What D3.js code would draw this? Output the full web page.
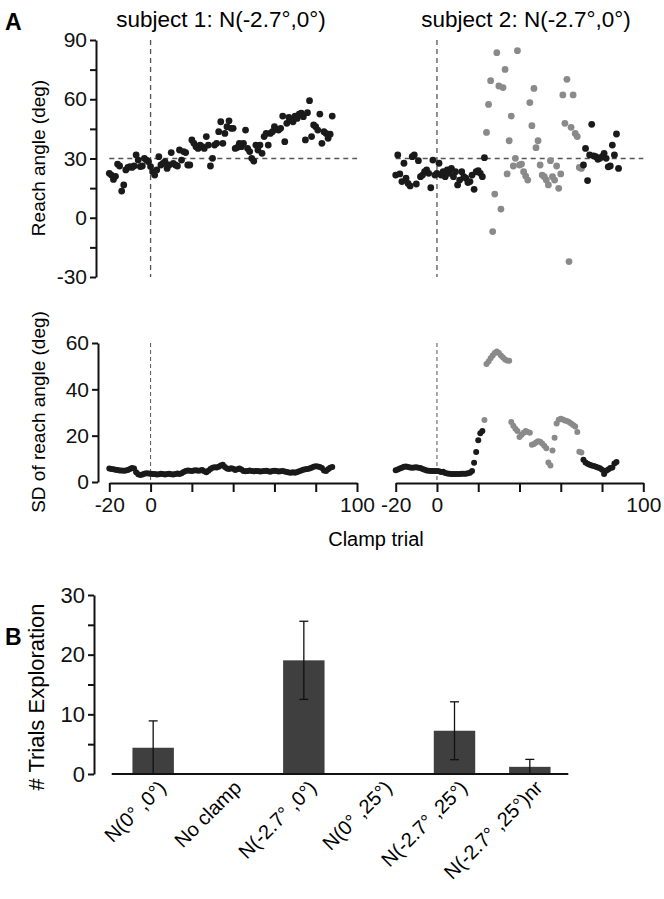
<!DOCTYPE html>
<html><head><meta charset="utf-8">
<script src="https://cdn.jsdelivr.net/npm/d3@7"></script>
<style>
body{margin:0;background:#fff;}
svg{display:block;font-family:"Liberation Sans",Arial,sans-serif;}
</style></head><body>
<svg id="chart" width="664" height="899"></svg>
<script>
// ---------- DATA ----------
const firstTrial = -20;
const panelTitles = ["subject 1: N(-2.7°,0°)", "subject 2: N(-2.7°,0°)"];
// reach angle per trial (deg), trials -20 ... 88
const reach1 = [22.5,21.6,19.4,21.0,27.2,26.2,13.5,16.6,24.2,25.5,25.9,25.5,26.2,31.8,29.2,25.9,26.2,30.1,29.2,28.4,
  25.9,23.3,21.6,24.2,30.9,26.7,27.5,28.4,25.0,26.7,33.0,27.5,26.7,26.2,34.3,29.2,33.5,33.0,26.7,26.7,
  39.4,37.7,36.0,35.1,36.8,36.0,35.1,41.1,36.8,26.2,30.1,36.8,37.7,43.6,48.6,37.7,42.7,46.1,49.1,45.3,
  45.3,35.1,35.6,37.7,36.0,37.7,44.4,35.1,33.5,30.1,28.7,36.8,34.3,36.8,32.6,41.1,42.7,36.8,42.7,43.6,
  46.1,44.7,44.4,45.3,51.5,38.5,47.8,50.8,49.5,48.6,51.5,50.3,52.5,52.9,51.2,39.4,53.2,59.3,41.1,47.0,
  46.1,44.4,52.5,37.7,43.6,42.7,40.2,42.3,51.5];
const reach2 = [21.6,31.8,22.2,18.3,27.6,20.0,17.4,16.1,30.9,31.8,17.1,28.9,20.8,21.6,23.3,24.2,22.5,15.2,29.2,21.6,
  22.5,27.6,21.6,23.3,20.8,24.2,22.5,25.0,20.8,23.3,16.6,19.1,23.3,20.8,20.0,17.8,18.3,21.6,14.4,23.3,
  23.8,22.5,20.8,30.4,
  43.2,57.4,69.4,-7.0,12.0,83.6,66.7,4.4,65.9,75.1,22.2,39.0,51.5,26.2,30.1,84.6,26.7,27.2,23.3,21.1,
  19.1,58.3,46.6,65.5,35.5,39.0,26.7,21.6,20.8,19.1,16.6,28.9,20.8,19.1,26.2,14.9,22.2,62.2,47.8,70.1,
  -22.2,45.8,62.2,42.7,41.1,25.5,25.0,
  26.7,35.1,18.8,31.8,47.3,31.3,30.9,29.6,30.1,30.9,32.6,30.1,25.8,26.2,36.8,31.8,42.4,25.0];
// SD of reach angle per trial (deg)
const sd1 = [5.8,5.6,5.5,5.3,5.2,5.0,5.0,4.9,5.0,5.2,5.6,6.0,5.8,4.2,3.3,3.0,3.2,3.6,3.8,3.7,
  3.6,3.5,3.4,3.2,3.3,3.6,3.4,3.2,3.4,3.6,3.3,3.2,3.5,3.7,3.4,3.8,4.3,4.8,5.0,4.9,
  4.8,5.0,5.1,4.9,5.0,5.2,4.6,4.2,4.9,5.6,6.2,6.4,6.3,6.6,7.1,7.4,6.5,5.8,5.6,5.9,
  5.7,5.2,5.5,5.8,5.4,4.8,4.6,4.8,5.0,4.7,4.6,4.8,4.7,4.5,4.6,4.8,4.9,4.6,4.4,4.7,
  4.9,4.7,4.5,4.6,4.8,4.5,4.3,4.1,4.0,4.2,4.0,4.3,4.6,5.0,5.3,5.5,5.6,5.8,6.2,6.6,
  6.8,6.7,6.5,6.0,5.0,4.7,5.5,6.2,6.5];
const sd2 = [5.1,5.4,5.8,6.2,6.6,6.7,6.5,6.3,6.2,6.3,6.4,6.2,6.0,5.6,5.3,5.0,4.9,4.8,4.8,4.7,
  4.7,4.6,4.3,4.4,3.9,3.7,3.6,3.4,3.4,3.5,3.4,3.5,3.6,3.6,3.6,3.8,4.0,4.8,8.3,12.9,
  18.0,21.0,22.0,26.8,50.9,52.0,53.4,54.6,55.7,56.3,55.7,54.6,53.7,52.9,52.4,52.3,25.9,24.3,23.0,22.0,
  19.4,20.4,21.3,22.0,21.6,21.3,16.1,16.4,17.0,17.6,17.4,16.6,15.6,14.6,8.4,7.1,13.6,19.1,25.3,26.9,
  27.3,27.0,26.6,26.3,25.9,25.3,24.6,24.0,21.6,13.1,12.7,9.6,8.4,7.9,7.4,7.1,6.9,6.6,6.3,5.9,
  5.3,3.4,4.9,5.4,6.0,6.3,8.0,8.6];
// trials drawn in grey (exploration) for subject 2
const exploreReach2 = [24, 70];
const exploreSD2 = [23, 70];
const reachTicks = [-30,-15,0,15,30,45,60,75,90];
const sdTicks = [0,20,40,60];
const trialTicks = [-20,0,20,40,60,80,100];
const trialLabels = [-20,0,100];
// panel B
const conditions = ["N(0° ,0°)","No clamp","N(-2.7° ,0°)","N(0° ,25°)","N(-2.7° ,25°)","N(-2.7° ,25°)nr"];
const trialsExploration = [4.4, 0, 19.05, 0, 7.25, 1.2];
const errExploration = [4.5, 0, 6.55, 0, 4.85, 1.25];
const barTicks = [0,5,10,15,20,25,30];

// ---------- DRAW ----------
const svg = d3.select("#chart");
const BLACK = "#1a1a1a", GREY = "#8a8a8a", DASH = "#555";
const FT = 21;   // tick labels
const FA = 19;   // axis titles (panel A)
const FB = 22;   // panel B texts
const FC = 20;   // category labels

const xL = d3.scaleLinear([-20,100],[109.3,357]);
const xR = d3.scaleLinear([-20,100],[395.7,643.3]);
const yTop = d3.scaleLinear([-30,90],[277,40]);
const yBot = d3.scaleLinear([0,60],[482,343]);

function styleAxis(g, fs){
  g.selectAll("path.domain").attr("stroke","#111").attr("stroke-width",2);
  g.selectAll(".tick line").attr("stroke","#111").attr("stroke-width",2);
  g.selectAll(".tick text").attr("font-size",fs).attr("fill","#111")
    .attr("font-family","Liberation Sans, Arial, sans-serif");
}

// Panel letters & titles
svg.append("text").attr("x",5).attr("y",30).attr("font-size",23).attr("font-weight","bold").text("A");
svg.append("text").attr("x",5).attr("y",645).attr("font-size",23).attr("font-weight","bold").text("B");
svg.append("text").attr("x",221).attr("y",27).attr("text-anchor","middle").attr("font-size",22.5).text(panelTitles[0]);
svg.append("text").attr("x",526).attr("y",27).attr("text-anchor","middle").attr("font-size",22.5).text(panelTitles[1]);

// Y axes
const gYT = svg.append("g").attr("transform","translate(96,0)")
  .call(d3.axisLeft(yTop).tickValues(reachTicks).tickSize(6).tickSizeOuter(0)
    .tickFormat(d => d % 30 === 0 ? String(d) : ""));
styleAxis(gYT, FT); gYT.selectAll(".tick text").attr("x",-9);
const gYB = svg.append("g").attr("transform","translate(98,0)")
  .call(d3.axisLeft(yBot).tickValues(sdTicks).tickSize(6).tickSizeOuter(0).tickFormat(d => String(d)));
styleAxis(gYB, FT); gYB.selectAll(".tick text").attr("x",-9);

svg.append("text").attr("transform","translate(45,158) rotate(-90)").attr("text-anchor","middle")
  .attr("font-size",FA).text("Reach angle (deg)");
svg.append("text").attr("transform","translate(45,412) rotate(-90)").attr("text-anchor","middle")
  .attr("font-size",FA).text("SD of reach angle (deg)");

// X axes (bottom row)
[xL,xR].forEach(x=>{
  const g = svg.append("g").attr("transform","translate(0,483)")
    .call(d3.axisBottom(x).tickValues(trialTicks).tickSize(9).tickSizeOuter(0)
      .tickFormat(d => trialLabels.includes(d) ? String(d) : ""));
  styleAxis(g, FT); g.selectAll(".tick text").attr("y",14);
});
svg.append("text").attr("x",376).attr("y",546).attr("text-anchor","middle").attr("font-size",20).text("Clamp trial");

// reference dashed lines
[xL,xR].forEach(x=>{
  svg.append("line").attr("x1",x(-20)).attr("x2",x(100)).attr("y1",yTop(30)).attr("y2",yTop(30))
    .attr("stroke",DASH).attr("stroke-width",1.3).attr("stroke-dasharray","5,4");
  svg.append("line").attr("x1",x(0)).attr("x2",x(0)).attr("y1",yTop(90)).attr("y2",yTop(-30))
    .attr("stroke",DASH).attr("stroke-width",1.3).attr("stroke-dasharray","5,4");
  svg.append("line").attr("x1",x(0)).attr("x2",x(0)).attr("y1",yBot(60)).attr("y2",yBot(0))
    .attr("stroke",DASH).attr("stroke-width",1).attr("stroke-dasharray","4,3");
});

function dots(arr, x, y, r, range){
  svg.append("g").selectAll("circle").data(arr).join("circle")
    .attr("cx",(d,i)=>x(firstTrial+i)).attr("cy",d=>y(d)).attr("r",r)
    .attr("fill",(d,i)=>{const t=firstTrial+i; return range && t>=range[0] && t<=range[1] ? GREY : BLACK;});
}
dots(reach1, xL, yTop, 3.4, null);
dots(reach2, xR, yTop, 3.4, exploreReach2);
dots(sd1, xL, yBot, 3.0, null);
dots(sd2, xR, yBot, 3.0, exploreSD2);

// ---------- Panel B ----------
const xB = d3.scaleBand().domain(conditions).range([115.5,567.5]).paddingInner(0.45).paddingOuter(0.225);
const yB = d3.scaleLinear([0,30],[774,595]);

const gB = svg.append("g").attr("transform","translate(94,0)")
  .call(d3.axisLeft(yB).tickValues(barTicks).tickSize(6).tickSizeOuter(0)
    .tickFormat(d => d % 10 === 0 ? String(d) : ""));
styleAxis(gB, FB); gB.selectAll(".tick text").attr("x",-9);
svg.append("text").attr("transform","translate(44,697) rotate(-90)").attr("text-anchor","middle")
  .attr("font-size",FB).text("# Trials Exploration");

svg.append("g").selectAll("rect").data(conditions).join("rect")
  .attr("x",d=>xB(d)).attr("width",xB.bandwidth())
  .attr("y",(d,i)=>yB(trialsExploration[i])).attr("height",(d,i)=>yB(0)-yB(trialsExploration[i]))
  .attr("fill","#3f3f3f");

const eb = svg.append("g").attr("stroke","#111").attr("stroke-width",1.3);
conditions.forEach((c,i)=>{
  if(!errExploration[i]) return;
  const cx = xB(c)+xB.bandwidth()/2;
  const hi = trialsExploration[i]+errExploration[i], lo = Math.max(0, trialsExploration[i]-errExploration[i]);
  eb.append("line").attr("x1",cx).attr("x2",cx).attr("y1",yB(hi)).attr("y2",yB(lo));
  eb.append("line").attr("x1",cx-4.5).attr("x2",cx+4.5).attr("y1",yB(hi)).attr("y2",yB(hi));
  eb.append("line").attr("x1",cx-4.5).attr("x2",cx+4.5).attr("y1",yB(lo)).attr("y2",yB(lo));
});

svg.append("line").attr("x1",111.7).attr("x2",568.3).attr("y1",yB(0)).attr("y2",yB(0))
  .attr("stroke","#111").attr("stroke-width",2);

svg.append("g").selectAll("text").data(conditions).join("text")
  .attr("transform",d=>`translate(${xB(d)+xB.bandwidth()/2+14},${yB(0)+15}) rotate(-45)`)
  .attr("text-anchor","end").attr("font-size",FC).text(d=>d);
</script>
</body></html>
